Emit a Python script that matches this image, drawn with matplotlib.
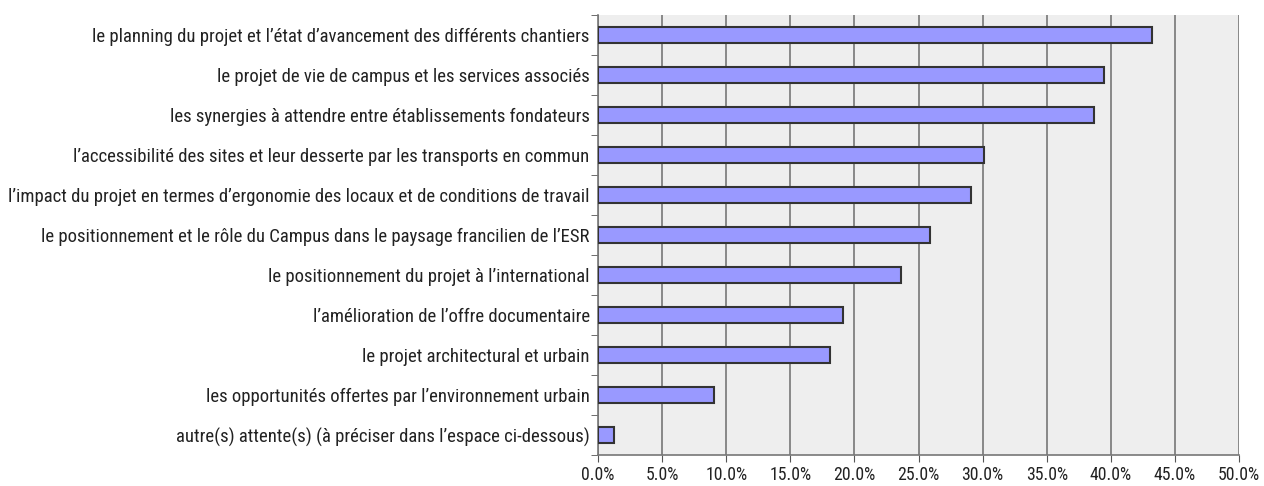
import matplotlib
matplotlib.use("Agg")
import matplotlib.pyplot as plt
from matplotlib import font_manager
import numpy as np

categories = [
    "le planning du projet et l\u2019\u00e9tat d\u2019avancement des diff\u00e9rents chantiers",
    "le projet de vie de campus et les services associ\u00e9s",
    "les synergies \u00e0 attendre entre \u00e9tablissements fondateurs",
    "l\u2019accessibilit\u00e9 des sites et leur desserte par les transports en commun",
    "l\u2019impact du projet en termes d\u2019ergonomie des locaux et de conditions de travail",
    "le positionnement et le r\u00f4le du Campus dans le paysage francilien de l\u2019ESR",
    "le positionnement du projet \u00e0 l\u2019international",
    "l\u2019am\u00e9lioration de l\u2019offre documentaire",
    "le projet architectural et urbain",
    "les opportunit\u00e9s offertes par l\u2019environnement urbain",
    "autre(s) attente(s) (\u00e0 pr\u00e9ciser dans l\u2019espace ci-dessous)",
]
values = [43.2, 39.5, 38.7, 30.1, 29.1, 25.9, 23.6, 19.1, 18.1, 9.05, 1.27]
xticks = [0, 5, 10, 15, 20, 25, 30, 35, 40, 45, 50]

names = {f.name for f in font_manager.fontManager.ttflist}
for cand in ["Liberation Sans Narrow", "Roboto Condensed", "Roboto", "Liberation Sans"]:
    if cand in names:
        fam = cand
        break
plt.rcParams["font.family"] = [fam, "DejaVu Sans"]

fig = plt.figure(figsize=(12.64, 4.86), dpi=100)
ax = fig.add_axes([598/1264, 1-455/486, (1239-598)/1264, (455-15)/486])
ax.set_facecolor("#EEEEEE")

n = len(categories)
y = np.arange(n)
ax.barh(y, values, height=0.4, color="#9999FF", edgecolor="#333333", linewidth=1.5, zorder=3)
ax.set_ylim(n - 0.5, -0.5)
ax.set_xlim(0, 50)

# fit label font size so the longest label is about 580 px wide
renderer = fig.canvas.get_renderer()
probe = fig.text(0, 0, max(categories, key=len), fontsize=12)
w = probe.get_window_extent(renderer).width
probe.remove()
ysize = min(14.5, 12 * 580 / w)
xsize = min(13, ysize * 0.95)

ax.set_xticks(xticks)
ax.set_xticklabels([f"{t:.1f}%" for t in xticks], fontsize=xsize, color="#222222")
ax.set_yticks(y)
ax.set_yticklabels(categories, fontsize=ysize, color="#222222")
ax.tick_params(axis="y", length=0, pad=6)
ax.set_yticks(np.arange(n + 1) - 0.5, minor=True)
ax.tick_params(axis="y", which="minor", length=5, color="#555555")
ax.tick_params(axis="x", length=5, color="#555555", pad=3)

ax.xaxis.grid(True, color="#777777", linewidth=1.2, zorder=1)
ax.set_axisbelow(True)
ax.spines["top"].set_visible(False)
ax.spines["right"].set_visible(False)
ax.spines["left"].set_color("#777777")
ax.spines["bottom"].set_color("#777777")
ax.spines["left"].set_linewidth(1.2)
ax.spines["bottom"].set_linewidth(1.2)

fig.savefig("out.png", dpi=100)
